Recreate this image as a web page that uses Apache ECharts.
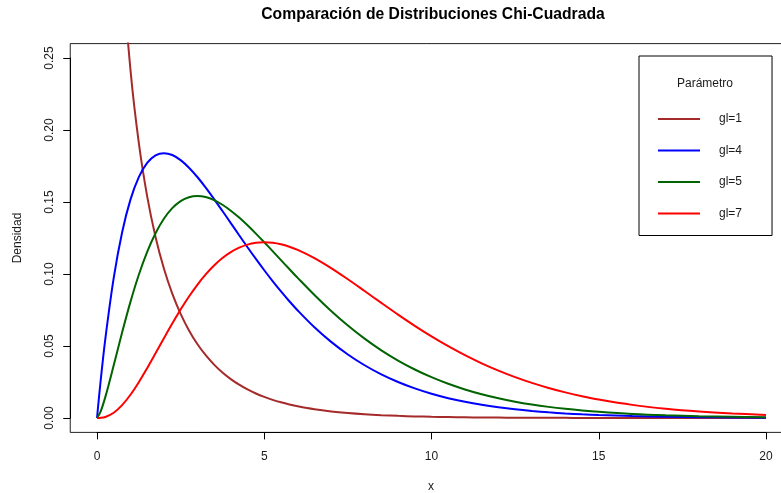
<!DOCTYPE html>
<html>
<head>
<meta charset="utf-8">
<script src="https://cdn.jsdelivr.net/npm/echarts@6/dist/echarts.min.js"></script>
<style>
  html, body { margin: 0; padding: 0; background: #fff; }
  #chart { width: 781px; height: 493px; }
</style>
</head>
<body>
<div id="chart"></div>
<script>
// Chi-square densities sampled along x
const xs = [0, 0.1, 0.25, 0.5, 0.75, 1, 1.25, 1.5, 1.75, 2, 2.25, 2.5, 2.75, 3, 3.25, 3.5, 3.75, 4,
  4.25, 4.5, 4.75, 5, 5.25, 5.5, 5.75, 6, 6.5, 7, 7.5, 8, 8.5, 9, 9.5, 10, 10.5, 11, 11.5, 12,
  12.5, 13, 13.5, 14, 14.5, 15, 16, 17, 18, 19, 20];

const gl1 = [null, 1.2001, 0.70413, 0.43939, 0.31661, 0.24197, 0.19099, 0.15387, 0.12571, 0.10378,
  0.08635, 0.07229, 0.06083, 0.05139, 0.04358, 0.03706, 0.03159, 0.02700, 0.02311, 0.01982, 0.01703,
  0.01465, 0.01261, 0.01088, 0.00939, 0.00811, 0.00607, 0.00455, 0.00343, 0.00258, 0.00195, 0.00148,
  0.00112, 0.00085, 0.00065, 0.00049, 0.00037, 0.00029, 0.00022, 0.00017, 0.00013, 0.00010, 0.00007,
  0.00006, 0.00003, 0.00002, 0.00001, 0.00001, 0.000004];

const gl4 = [0, 0.02378, 0.05516, 0.09735, 0.12887, 0.15163, 0.16727, 0.17714, 0.18238, 0.18394,
  0.18262, 0.17907, 0.17383, 0.16735, 0.15999, 0.15205, 0.14377, 0.13534, 0.12690, 0.11857, 0.11045,
  0.10261, 0.09508, 0.08790, 0.08110, 0.07468, 0.06301, 0.05285, 0.04410, 0.03663, 0.03031, 0.02500,
  0.02055, 0.01684, 0.01378, 0.01124, 0.00915, 0.00744, 0.00603, 0.00489, 0.00395, 0.00319, 0.00257,
  0.00207, 0.00134, 0.00086, 0.00055, 0.00036, 0.00023];

const gl5 = [0, 0.00400, 0.01467, 0.03662, 0.05936, 0.08066, 0.09948, 0.11540, 0.12833, 0.13837,
  0.14571, 0.15060, 0.15333, 0.15418, 0.15342, 0.15131, 0.14809, 0.14398, 0.13916, 0.13380, 0.12805,
  0.12204, 0.11588, 0.10965, 0.10344, 0.09730, 0.08545, 0.07437, 0.06424, 0.05511, 0.04701, 0.03989,
  0.03369, 0.02834, 0.02375, 0.01983, 0.01651, 0.01370, 0.01134, 0.00937, 0.00772, 0.00635, 0.00521,
  0.00427, 0.00285, 0.00189, 0.00125, 0.00083, 0.00054];

const gl7 = [0, 0.00008, 0.00073, 0.00366, 0.00891, 0.01613, 0.02487, 0.03462, 0.04492, 0.05535,
  0.06557, 0.07530, 0.08433, 0.09251, 0.09972, 0.10592, 0.11107, 0.11518, 0.11828, 0.12042, 0.12165,
  0.12204, 0.12167, 0.12062, 0.11896, 0.11677, 0.11108, 0.10412, 0.09635, 0.08818, 0.07991, 0.07180,
  0.06401, 0.05667, 0.04986, 0.04362, 0.03797, 0.03289, 0.02836, 0.02436, 0.02086, 0.01779, 0.01512,
  0.01282, 0.00912, 0.00643, 0.00450, 0.00314, 0.00216];

const seriesNames = ['gl=1', 'gl=4', 'gl=5', 'gl=7'];
const seriesValues = [gl1, gl4, gl5, gl7];
const seriesColors = ['#A52A2A', '#0000FF', '#006400', '#FF0000'];

const xTicks = [0, 5, 10, 15, 20];
const yTicks = [0, 0.05, 0.10, 0.15, 0.20, 0.25];

const FONT = 'Liberation Sans, Arial, Helvetica, sans-serif';
const TXT = '#1a1a1a';

// Plot region spans 0..20 / 0..0.25; the framed box adds 4% on each side
const plot = { left: 97, top: 58, width: 669, height: 360 };
const xPad = 0.04 * 20, yPad = 0.04 * 0.25;
const pxX = plot.width / 20, pxY = plot.height / 0.25;
const box = {
  left: plot.left - xPad * pxX,
  top: plot.top - yPad * pxY,
  width: plot.width + 2 * xPad * pxX,
  height: plot.height + 2 * yPad * pxY
};

const chart = echarts.init(document.getElementById('chart'), null, { renderer: 'canvas' });

const option = {
  backgroundColor: '#fff',
  animation: false,
  textStyle: { fontFamily: FONT },
  grid: [
    // axes grid (0..20, 0..0.25)
    { left: plot.left, top: plot.top, width: plot.width, height: plot.height,
      show: false, outerBoundsMode: 'none', containLabel: false },
    // framed box holding the curves (its right side runs past the canvas)
    { left: box.left, top: box.top, width: box.width, height: box.height,
      show: true, borderColor: '#222', borderWidth: 1, backgroundColor: 'transparent',
      outerBoundsMode: 'none', containLabel: false }
  ],
  xAxis: [
    {
      gridIndex: 0, type: 'value', min: xTicks[0], max: xTicks[xTicks.length - 1], interval: 5,
      position: 'bottom', offset: box.top + box.height - (plot.top + plot.height),
      axisLine: { show: true, onZero: false, lineStyle: { color: '#000', width: 1 } },
      axisTick: { show: true, length: 7, lineStyle: { color: '#000', width: 1 } },
      axisLabel: { color: TXT, fontSize: 12, fontFamily: FONT, margin: 18 },
      splitLine: { show: false }
    },
    {
      gridIndex: 1, type: 'value', min: -xPad, max: 20 + xPad,
      show: false, splitLine: { show: false }
    }
  ],
  yAxis: [
    {
      gridIndex: 0, type: 'value', min: yTicks[0], max: yTicks[yTicks.length - 1], interval: 0.05,
      position: 'left', offset: plot.left - box.left,
      axisLine: { show: true, onZero: false, lineStyle: { color: '#000', width: 1 } },
      axisTick: { show: true, length: 7, lineStyle: { color: '#000', width: 1 } },
      axisLabel: { color: TXT, fontSize: 12, fontFamily: FONT, rotate: 90, margin: 15,
        formatter: v => v.toFixed(2) },
      splitLine: { show: false }
    },
    {
      gridIndex: 1, type: 'value', min: -yPad, max: 0.25 + yPad,
      show: false, splitLine: { show: false }
    }
  ],
  legend: {
    orient: 'vertical',
    left: 639, top: 56,
    padding: [56, 30, 15, 19],
    itemGap: 17.5,
    icon: 'rect',
    itemWidth: 42, itemHeight: 2,
    borderColor: '#000', borderWidth: 1, borderRadius: 0,
    backgroundColor: '#fff',
    data: seriesNames,
    textStyle: { color: TXT, fontSize: 12, fontFamily: FONT, padding: [0, 0, 0, 14], lineHeight: 14 },
    selectedMode: false
  },
  graphic: [
    {
      type: 'text', x: 433, y: 15,
      style: { text: 'Comparación de Distribuciones Chi-Cuadrada', fill: '#000',
        font: 'bold 15.7px ' + FONT, textAlign: 'center', textVerticalAlign: 'middle' }
    },
    {
      type: 'text', x: 431, y: 487,
      style: { text: 'x', fill: TXT, font: '12px ' + FONT, textAlign: 'center', textVerticalAlign: 'middle' }
    },
    {
      type: 'text', x: 18, y: 238, rotation: Math.PI / 2,
      style: { text: 'Densidad', fill: TXT, font: '12px ' + FONT, textAlign: 'center', textVerticalAlign: 'middle' }
    },
    {
      type: 'text', x: 705, y: 84, z: 100,
      style: { text: 'Parámetro', fill: TXT, font: '12px ' + FONT, textAlign: 'center', textVerticalAlign: 'middle' }
    }
  ],
  series: seriesNames.map((name, k) => ({
    name: name,
    type: 'line',
    xAxisIndex: 1, yAxisIndex: 1,
    data: xs.map((x, i) => [x, seriesValues[k][i]]),
    showSymbol: false,
    symbol: 'none',
    smooth: 0.35,
    clip: true,
    connectNulls: false,
    color: seriesColors[k],
    lineStyle: { color: seriesColors[k], width: 2 },
    emphasis: { disabled: true }
  }))
};

chart.setOption(option);
</script>
</body>
</html>
